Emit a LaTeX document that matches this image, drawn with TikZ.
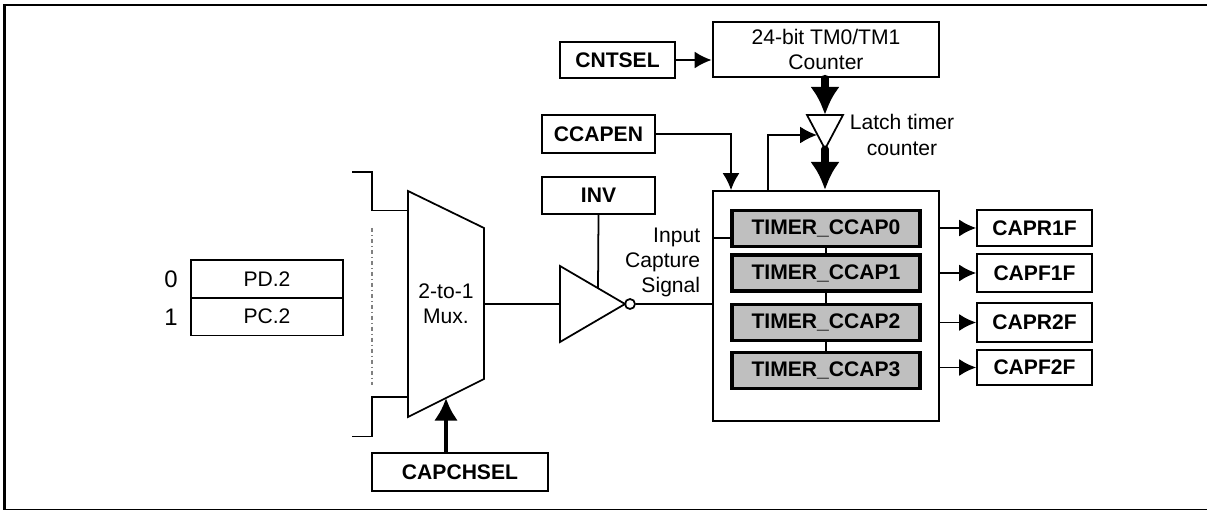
\documentclass[tikz,border=0pt]{standalone}
\usepackage{fontspec}
\setmainfont{Liberation Sans}
\usetikzlibrary{arrows.meta,positioning}

\begin{document}
\begin{tikzpicture}[x=0.025cm, y=-0.025cm, line width=1.25pt,
        regbox/.style={draw, inner sep=0pt, font=\fontsize{15}{15}\selectfont\bfseries},
        ccapbox/.style={regbox, line width=2.6pt, fill=gray!50, minimum width=4.7cm, minimum height=0.9cm},
        flagbox/.style={regbox, minimum width=2.875cm},
        label/.style={inner sep=0pt, font=\fontsize{15}{18}\selectfont},
        wire/.style={-{Latex[length=12pt,width=12pt]}},
        bus/.style={-{Latex[length=20pt,width=21pt]}, line width=5pt, line cap=round}]
        \useasboundingbox (0, 0) rectangle (1207, 510);
        \draw[line width=2pt] (1207, 5) -- (4.5, 5) -- (4.5, 510) -- (1207, 510);

        \node (CNTSEL) [regbox, minimum width=2.875cm, minimum height=0.9cm] at (617.5, 60) {CNTSEL};
        \node (COUNTER) [draw, line width=2pt, minimum width=5.65cm, minimum height=1.375cm, align=center,
            inner sep=0pt, font=\fontsize{15}{18}\selectfont] at (826, 49.5) {24-bit TM0/TM1\\Counter};
        \node (CCAPEN) [regbox, minimum width=2.825cm, minimum height=0.95cm] at (598.5, 134) {CCAPEN};
        \node (INV) [regbox, minimum width=2.825cm, minimum height=0.925cm] at (598.5, 195.5) {INV};
        \node (CAPCHSEL) [regbox, minimum width=4.4cm, minimum height=0.95cm] at (460, 472) {CAPCHSEL};

        \node (TIMER) [draw, minimum width=5.65cm, minimum height=5.75cm] at (826, 306) {};
        \node (CCAP0) [ccapbox] at (826, 228.5) {TIMER\_CCAP0};
        \node (CCAP1) [ccapbox] at (826, 273) {TIMER\_CCAP1};
        \node (CCAP2) [ccapbox] at (826, 322.5) {TIMER\_CCAP2};
        \node (CCAP3) [ccapbox] at (826, 370.5) {TIMER\_CCAP3};

        \node (CAPR1F) [flagbox, minimum height=0.9cm] at (1034.5, 228) {CAPR1F};
        \node (CAPF1F) [flagbox, minimum height=0.95cm] at (1034.5, 273) {CAPF1F};
        \node (CAPR2F) [flagbox, minimum height=0.975cm] at (1034.5, 322.5) {CAPR2F};
        \node (CAPF2F) [flagbox, minimum height=0.875cm] at (1034.5, 367.5) {CAPF2F};

        \node (PD) [draw, minimum width=3.8cm, minimum height=0.95cm, inner sep=0pt, font=\fontsize{15}{15}\selectfont] at (267, 279) {PD.2};
        \node (PC) [draw, minimum width=3.8cm, minimum height=0.95cm, inner sep=0pt, font=\fontsize{15}{15}\selectfont] at (267, 316.5) {PC.2};
        \node (ZERO) [inner sep=0pt, font=\fontsize{17}{17}\selectfont] at (171, 279) {0};
        \node (ONE) [inner sep=0pt, font=\fontsize{17}{17}\selectfont] at (171, 317) {1};

        % mux
        \coordinate (MUXtl) at (408, 191);
        \coordinate (MUXtr) at (484, 228);
        \coordinate (MUXbr) at (484, 379);
        \coordinate (MUXbl) at (408, 417);
        \draw (MUXtl) -- (MUXtr) -- (MUXbr) -- (MUXbl) -- cycle;
        \node (MUX) [label, align=center] at (446, 304) {2-to-1\\Mux.};
        \coordinate (MUXout) at (484, 304);
        \coordinate (MUXin0) at (408, 210.5);
        \coordinate (MUXin1) at (408, 397);
        \coordinate (MUXsel) at (446, 398);
        \coordinate (BUStop) at (352, 172);
        \coordinate (BUSbot) at (352, 436.5);
        \draw (BUStop) -- (372, 172) |- (MUXin0);
        \draw (BUSbot) -- (372, 436.5) |- (MUXin1);
        \draw[gray, line width=0.8pt, dash dot] (372, 228) -- (372, 385);

        % inverter
        \coordinate (INVa) at (560, 266);
        \coordinate (INVb) at (625, 304);
        \coordinate (INVc) at (560, 342);
        \draw (INVa) -- (INVb) -- (INVc) -- cycle;
        \node (BUB) [draw, circle, inner sep=0pt, minimum size=0.25cm] at (630, 304) {};
        \coordinate (INVtop) at (598, 288);
        \coordinate (TIMERin) at (713, 304);

        % latch
        \coordinate (LATa) at (807, 115);
        \coordinate (LATb) at (843, 115);
        \coordinate (LATc) at (825, 149);
        \draw (LATa) -- (LATb) -- (LATc) -- cycle;
        \coordinate (LATin) at (817, 135);
        \node (LATCH) [label, align=center] at (902, 135) {Latch timer\\counter};
        \node (SIGNAL) [label, align=right, anchor=east] at (701, 262.5) {Input\\Capture\\Signal};

        \draw[wire] (CNTSEL.east) -- (CNTSEL.east -| COUNTER.west);
        \draw[bus] (COUNTER.south -| LATc) -- (LATa -| LATc);
        \draw[bus] (LATc) -- (TIMER.north -| LATc);
        \draw[wire] (CCAPEN.east) -| (731, 0 |- TIMER.north);
        \draw[wire] (768, 0 |- TIMER.north) |- (LATin);
        \draw (INV.south) -- (INVtop);
        \draw (MUXout) -- (INVa |- MUXout);
        \draw (BUB.east) -- (TIMERin);
        \draw (TIMER.west |- 0, 238) -- (CCAP0.west |- 0, 238);
        \draw[-{Latex[length=16pt,width=17pt]}, line width=3pt] (CAPCHSEL.north -| MUXsel) -- (MUXsel);
        \draw (CCAP0) -- (CCAP1);
        \draw (CCAP1) -- (CCAP2);
        \draw (CCAP2) -- (CCAP3);
        \draw[wire] (CAPR1F.west -| TIMER.east) -- (CAPR1F.west);
        \draw[wire] (CAPF1F.west -| TIMER.east) -- (CAPF1F.west);
        \draw[wire] (CAPR2F.west -| TIMER.east) -- (CAPR2F.west);
        \draw[wire] (CAPF2F.west -| TIMER.east) -- (CAPF2F.west);
    \end{tikzpicture}
\end{document}
